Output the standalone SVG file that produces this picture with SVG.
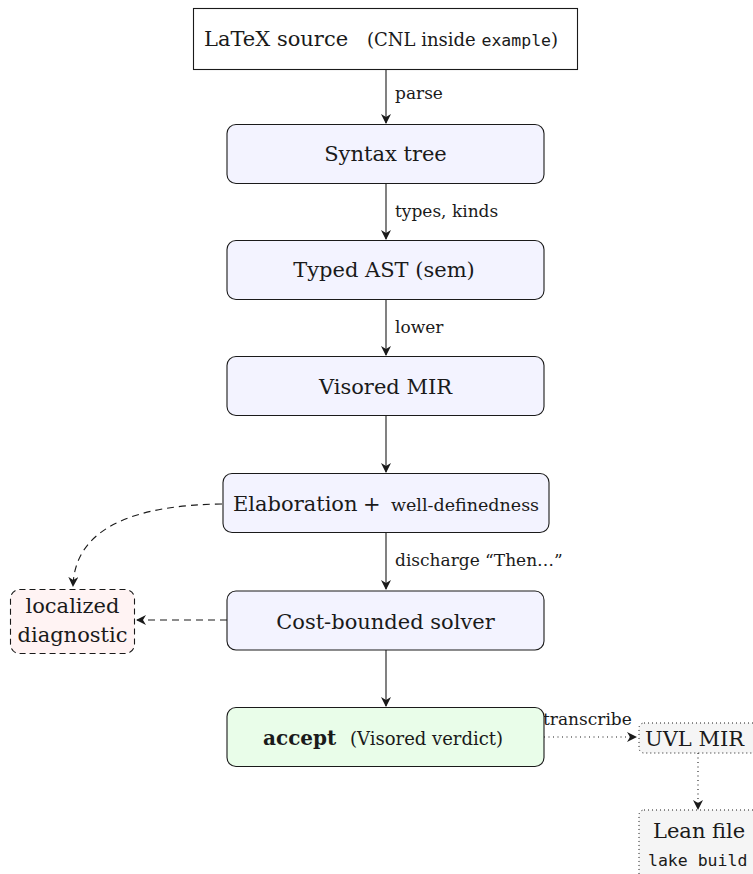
<svg xmlns="http://www.w3.org/2000/svg" width="753" height="874" viewBox="0 0 753 874">
<style>
text{font-family:"DejaVu Serif","Liberation Serif",serif;fill:#1a1a1a}
.n{font-size:21px}
.s{font-size:18px}
.e{font-size:17px}
.c{text-anchor:middle}
.m{font-family:"DejaVu Sans Mono","Liberation Mono",monospace}
.box{fill:#f3f3ff;stroke:#1a1a1a;stroke-width:1.1}
.edge{stroke:#1a1a1a;stroke-width:1.1;fill:none}
</style>
<defs>
<marker id="ah" viewBox="0 0 10 10" refX="9" refY="5" markerWidth="10" markerHeight="10" markerUnits="userSpaceOnUse" orient="auto">
<path d="M0,0 L10,5 L0,10 L3,5 Z" fill="#1a1a1a"/>
</marker>
</defs>
<g id="connectors">
<line class="edge" x1="386" y1="69" x2="386" y2="123" marker-end="url(#ah)"/>
<line class="edge" x1="386" y1="183" x2="386" y2="239" marker-end="url(#ah)"/>
<line class="edge" x1="386" y1="299" x2="386" y2="355" marker-end="url(#ah)"/>
<line class="edge" x1="386" y1="415" x2="386" y2="472" marker-end="url(#ah)"/>
<line class="edge" x1="386" y1="532" x2="386" y2="589" marker-end="url(#ah)"/>
<line class="edge" x1="386" y1="650" x2="386" y2="706" marker-end="url(#ah)"/>
<path class="edge" d="M222,504 C140,505 75,525 73,586" stroke-dasharray="7,5" marker-end="url(#ah)"/>
<line class="edge" x1="227" y1="620" x2="137" y2="620" stroke-dasharray="7,5" marker-end="url(#ah)"/>
<line class="edge" x1="544" y1="737" x2="636" y2="737" stroke-dasharray="1,3.5" marker-end="url(#ah)"/>
<line class="edge" x1="698" y1="753" x2="698" y2="809" stroke-dasharray="1,3.5" marker-end="url(#ah)"/>
<text class="e" x="395" y="99">parse</text>
<text class="e" x="395" y="217">types, kinds</text>
<text class="e" x="395" y="333">lower</text>
<text class="e" x="395" y="566">discharge “Then…”</text>
<text class="e" x="543" y="725">transcribe</text>
</g>
<g id="latex">
<rect x="193.5" y="8.5" width="384" height="61" fill="#fff" stroke="#1a1a1a" stroke-width="1.1"/>
<text class="n" x="204" y="46">LaTeX source</text>
<text class="s" x="367" y="46">(CNL inside <tspan class="m" font-size="16.5">example</tspan>)</text>
</g>
<g id="syntax">
<rect class="box" x="227" y="124.5" width="317" height="59" rx="9"/>
<text class="n c" x="385.5" y="161">Syntax tree</text>
</g>
<g id="typed">
<rect class="box" x="227" y="240.5" width="317" height="59" rx="9"/>
<text class="n c" x="384" y="277">Typed AST (sem)</text>
</g>
<g id="visored">
<rect class="box" x="227" y="356.5" width="317" height="59" rx="9"/>
<text class="n c" x="385.5" y="394">Visored MIR</text>
</g>
<g id="elab">
<rect class="box" x="223" y="473.5" width="326" height="59" rx="9"/>
<text class="n" x="233" y="511">Elaboration</text>
<text class="n" x="363" y="511">+</text>
<text x="391" y="511" font-size="17.5">well-definedness</text>
</g>
<g id="solver">
<rect class="box" x="227" y="591" width="317" height="59" rx="9"/>
<text class="n c" x="385.5" y="629">Cost-bounded solver</text>
</g>
<g id="accept">
<rect x="227" y="707.5" width="317" height="59" rx="9" fill="#e9fde9" stroke="#1a1a1a" stroke-width="1.1"/>
<text x="263" y="745" font-size="20" font-weight="bold">accept</text>
<text class="s" x="350" y="745">(Visored verdict)</text>
</g>
<g id="diag">
<rect x="10.5" y="589.5" width="124" height="64" rx="9" fill="#fff3f3" stroke="#1a1a1a" stroke-width="1.1" stroke-dasharray="6,4"/>
<text class="n c" x="72.5" y="613">localized</text>
<text class="n c" x="72.5" y="642">diagnostic</text>
</g>
<g id="uvl">
<rect x="639" y="723" width="130" height="30" rx="5" fill="#f5f5f5" stroke="#1a1a1a" stroke-width="1" stroke-dasharray="1,3"/>
<text class="n" x="645" y="746">UVL MIR</text>
</g>
<g id="lean">
<rect x="639" y="810" width="130" height="74" rx="5" fill="#f5f5f5" stroke="#1a1a1a" stroke-width="1" stroke-dasharray="1,3"/>
<text class="n" x="653" y="838">Lean file</text>
<text class="m" x="648" y="866" font-size="16.5">lake build</text>
</g>
</svg>
